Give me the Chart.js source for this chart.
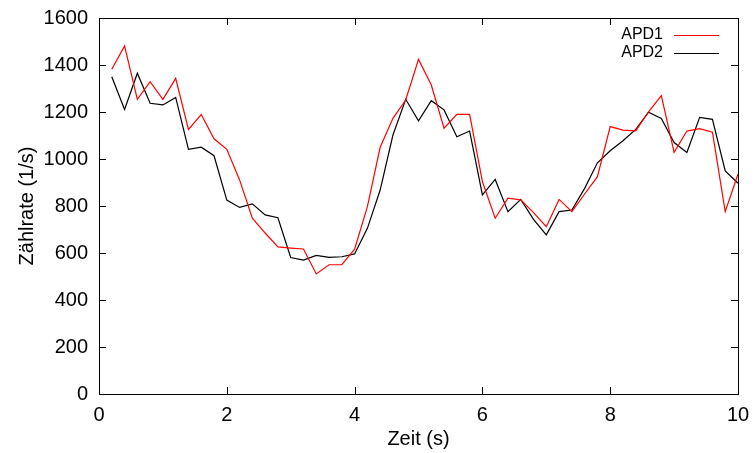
<!DOCTYPE html>
<html>
<head>
<meta charset="utf-8">
<script src="https://cdn.jsdelivr.net/npm/chart.js@4/dist/chart.umd.min.js"></script>
<style>
  html, body { margin: 0; padding: 0; background: #fff; }
</style>
</head>
<body>
<canvas id="c" width="754" height="453"></canvas>
<script>
// Zeitpunkte (s), alle 0.2 s
var zeit = [0.2, 0.4, 0.6, 0.8, 1.0, 1.2, 1.4, 1.6, 1.8, 2.0,
            2.2, 2.4, 2.6, 2.8, 3.0, 3.2, 3.4, 3.6, 3.8, 4.0,
            4.2, 4.4, 4.6, 4.8, 5.0, 5.2, 5.4, 5.6, 5.8, 6.0,
            6.2, 6.4, 6.6, 6.8, 7.0, 7.2, 7.4, 7.6, 7.8, 8.0,
            8.2, 8.4, 8.6, 8.8, 9.0, 9.2, 9.4, 9.6, 9.8, 10.0];

var apd1 = [1382, 1481, 1254, 1329, 1254, 1343, 1126, 1189, 1086, 1041,
            911, 748, 685, 626, 621, 617, 511, 550, 550, 616,
            797, 1050, 1173, 1251, 1424, 1315, 1131, 1190, 1190, 904,
            748, 833, 826, 772, 712, 828, 776, 851, 925, 1138,
            1123, 1120, 1201, 1270, 1028, 1119, 1129, 1114, 776, 936];

var apd2 = [1350, 1211, 1365, 1237, 1230, 1262, 1041, 1050, 1014, 825,
            794, 809, 762, 750, 581, 570, 590, 581, 584, 596,
            705, 868, 1102, 1254, 1162, 1248, 1209, 1095, 1119, 847,
            913, 776, 828, 743, 677, 776, 783, 875, 984, 1035,
            1078, 1126, 1199, 1173, 1070, 1028, 1177, 1169, 949, 897];

var xTicks = [0, 2, 4, 6, 8, 10];
var yTicks = [0, 200, 400, 600, 800, 1000, 1200, 1400, 1600];

function punkte(xs, ys) {
    var out = [];
    for (var i = 0; i < xs.length; i++) {
        out.push({x: xs[i], y: ys[i]});
    }
    return out;
}

// Rahmen mit nach innen zeigenden Ticks (gnuplot-Stil) und Legende oben rechts
var rahmen = {
    id: 'rahmen',
    afterDatasetsDraw: function (chart) {
        var ctx = chart.ctx;
        var a = chart.chartArea;
        var sx = chart.scales.x, sy = chart.scales.y;
        var len = 7;
        ctx.save();
        ctx.strokeStyle = '#000';
        ctx.lineWidth = 1;
        ctx.strokeRect(Math.round(a.left) + 0.5, Math.round(a.top) + 0.5,
                       Math.round(a.right - a.left), Math.round(a.bottom - a.top));
        ctx.beginPath();
        xTicks.forEach(function (v) {
            var px = Math.round(sx.getPixelForValue(v)) + 0.5;
            ctx.moveTo(px, a.bottom); ctx.lineTo(px, a.bottom - len);
            ctx.moveTo(px, a.top); ctx.lineTo(px, a.top + len);
        });
        yTicks.forEach(function (v) {
            var py = Math.round(sy.getPixelForValue(v)) + 0.5;
            ctx.moveTo(a.left, py); ctx.lineTo(a.left + len, py);
            ctx.moveTo(a.right, py); ctx.lineTo(a.right - len, py);
        });
        ctx.stroke();

        // Legende
        ctx.font = '16px "Liberation Sans", Arial, sans-serif';
        ctx.textAlign = 'right';
        ctx.textBaseline = 'middle';
        chart.data.datasets.forEach(function (ds, i) {
            var y = a.top + 17 + i * 18;
            ctx.fillStyle = '#000';
            ctx.fillText(ds.label, a.right - 75, y);
            ctx.strokeStyle = ds.borderColor;
            ctx.lineWidth = 1.2;
            ctx.beginPath();
            ctx.moveTo(a.right - 64, Math.round(y) + 0.5);
            ctx.lineTo(a.right - 19, Math.round(y) + 0.5);
            ctx.stroke();
        });
        ctx.restore();
    }
};

var schrift = {family: '"Liberation Sans", Arial, sans-serif', size: 20};

new Chart(document.getElementById('c'), {
    type: 'line',
    data: {
        datasets: [{
            label: 'APD1',
            data: punkte(zeit, apd1),
            borderColor: '#ff0000',
            borderWidth: 1.2,
            pointRadius: 0,
            tension: 0,
            fill: false
        }, {
            label: 'APD2',
            data: punkte(zeit, apd2),
            borderColor: '#000000',
            borderWidth: 1.2,
            pointRadius: 0,
            tension: 0,
            fill: false
        }]
    },
    options: {
        responsive: false,
        animation: false,
        devicePixelRatio: 1,
        layout: {padding: {left: 0, right: 16, top: 18, bottom: 0}},
        plugins: {
            legend: {display: false},
            tooltip: {enabled: false}
        },
        scales: {
            x: {
                type: 'linear',
                min: 0, max: 10,
                afterFit: function (s) {
                    s.height = 59;
                    s.paddingLeft = 0; s.paddingRight = 0;
                },
                afterBuildTicks: function (s) { s.ticks = xTicks.map(function (v) { return {value: v}; }); },
                grid: {display: false, drawTicks: false},
                border: {display: false},
                ticks: {color: '#000', font: schrift, padding: 9, maxRotation: 0,
                        callback: function (v) { return String(v); }},
                title: {display: true, text: 'Zeit (s)', color: '#000', font: schrift, padding: {top: 0, bottom: 2}}
            },
            y: {
                min: 0, max: 1600,
                afterFit: function (s) {
                    s.width = 99;
                    s.paddingTop = 0; s.paddingBottom = 0;
                },
                afterBuildTicks: function (s) { s.ticks = yTicks.map(function (v) { return {value: v}; }); },
                grid: {display: false, drawTicks: false},
                border: {display: false},
                ticks: {color: '#000', font: schrift, padding: 11,
                        callback: function (v) { return String(v); }},
                title: {display: true, text: 'Zählrate (1/s)', color: '#000', font: schrift, padding: {top: 15, bottom: 0}}
            }
        }
    },
    plugins: [rahmen]
});
</script>
</body>
</html>
